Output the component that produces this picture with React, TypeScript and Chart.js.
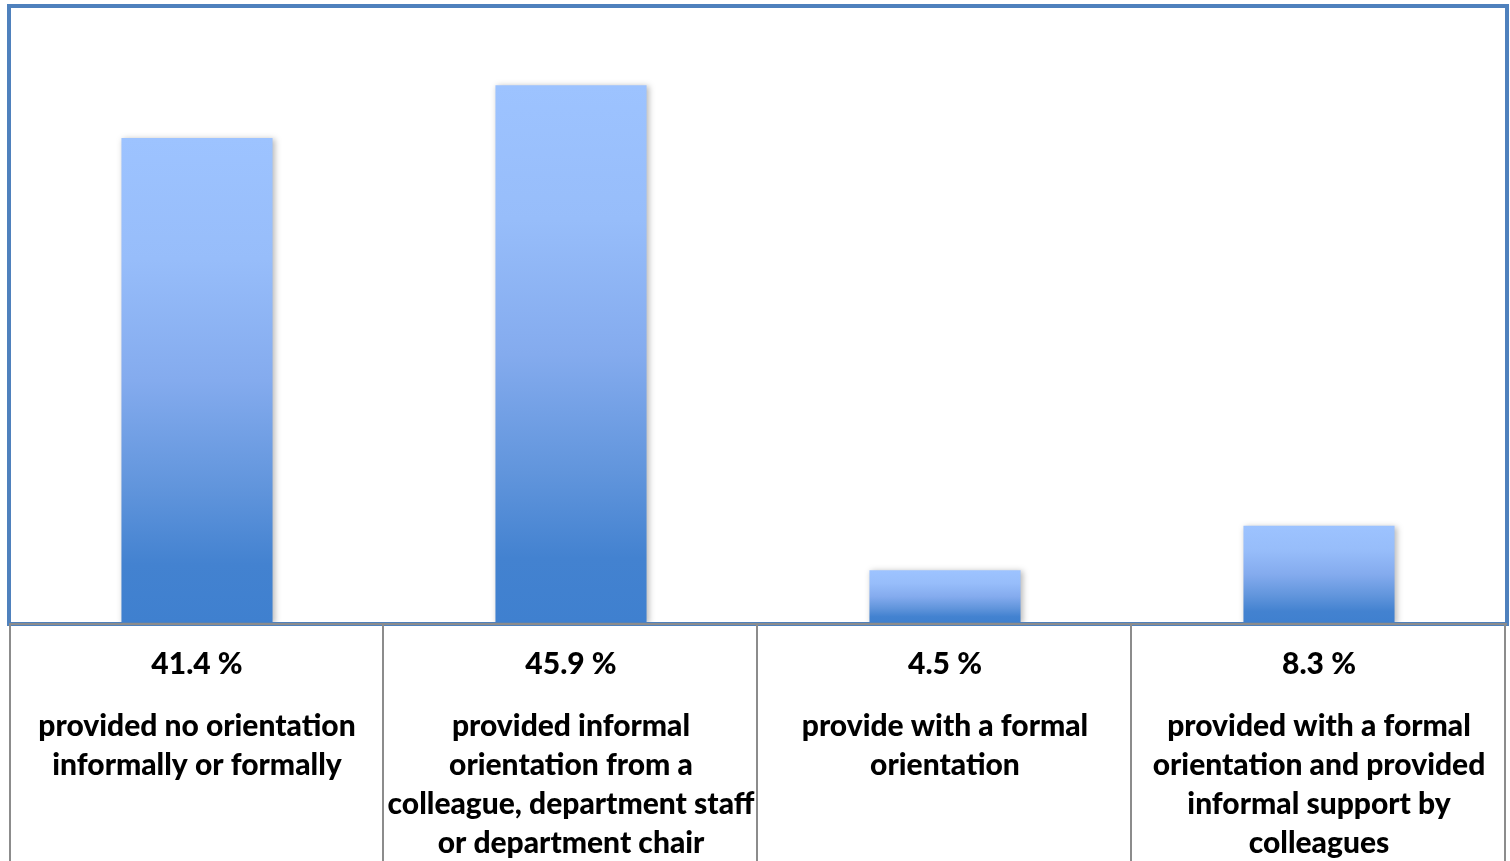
import React, { useEffect, useRef } from "react";
import { Chart, registerables } from "chart.js";

Chart.register(...registerables);

const categories: string[][] = [
  ["provided no orientation", "informally or formally"],
  ["provided informal", "orientation from a", "colleague, department staff", "or department chair"],
  ["provide with a formal", "orientation"],
  ["provided with a formal", "orientation and provided", "informal support by", "colleagues"],
];
const values: number[] = [41.4, 45.9, 4.5, 8.3];
const valueLabels: string[] = ["41.4 %", "45.9 %", "4.5 %", "8.3 %"];

const FONT = "Lato, 'Open Sans', sans-serif";

const shadowPlugin = {
  id: "barShadow",
  beforeDatasetsDraw(chart: any) {
    const ctx = chart.ctx;
    ctx.save();
    ctx.shadowColor = "rgba(0,0,0,0.28)";
    ctx.shadowBlur = 6;
    ctx.shadowOffsetX = 2;
    ctx.shadowOffsetY = 1;
  },
  afterDatasetsDraw(chart: any) {
    chart.ctx.restore();
  },
};

const framePlugin = {
  id: "frameTable",
  afterDraw(chart: any) {
    const ctx = chart.ctx;
    const { left, right, top, bottom } = chart.chartArea;
    const xs = chart.scales.x;
    const H = chart.height;
    ctx.save();
    ctx.strokeStyle = "#4F81BD";
    ctx.lineWidth = 4;
    ctx.strokeRect(left - 1, top - 2, right - left + 2, bottom - top + 3);
    ctx.strokeStyle = "#8C8C8C";
    ctx.lineWidth = 2;
    ctx.beginPath();
    ctx.moveTo(left - 1, bottom + 1);
    ctx.lineTo(right + 1, bottom + 1);
    ctx.stroke();
    const n = values.length;
    const w = (right - left) / n;
    for (let i = 0; i <= n; i++) {
      const x = Math.round(left + i * w) + (i === 0 ? 0 : -1);
      ctx.beginPath();
      ctx.moveTo(x, bottom + 1);
      ctx.lineTo(x, H);
      ctx.stroke();
    }
    ctx.fillStyle = "#000";
    ctx.textAlign = "center";
    ctx.textBaseline = "middle";
    ctx.font = `900 30px ${FONT}`;
    for (let i = 0; i < n; i++) {
      const cx = xs.getPixelForValue(i);
      ctx.fillText(valueLabels[i], cx, 664);
      categories[i].forEach((line, j) => {
        ctx.fillText(line, cx, 726 + j * 39);
      });
    }
    ctx.restore();
  },
};

export default function App() {
  const ref = useRef<HTMLCanvasElement | null>(null);
  useEffect(() => {
    if (!ref.current) return;
    const chart = new Chart(ref.current, {
      type: "bar",
      data: {
        labels: categories.map((c) => c.join(" ")),
        datasets: [
          {
            data: values,
            backgroundColor: (c: any) => {
              const ch = c.chart;
              const ys = ch.scales.y;
              if (!ys || c.dataIndex === undefined) return "#6FA0E6";
              const top = ys.getPixelForValue(values[c.dataIndex]);
              const base = ys.getPixelForValue(0);
              if (!isFinite(top) || !isFinite(base) || top === base) return "#6FA0E6";
              const g = ch.ctx.createLinearGradient(0, top, 0, base);
              g.addColorStop(0, "#9DC3FF");
              g.addColorStop(0.25, "#97BDFA");
              g.addColorStop(0.5, "#84ABEE");
              g.addColorStop(0.72, "#6195DC");
              g.addColorStop(0.88, "#4382D0");
              g.addColorStop(1, "#3F80CF");
              return g;
            },
            borderWidth: 0,
            categoryPercentage: 1,
            barPercentage: 0.404,
          },
        ],
      },
      options: {
        animation: false,
        responsive: false,
        maintainAspectRatio: false,
        layout: { padding: { left: 10, right: 4, top: 8, bottom: 238 } },
        plugins: { legend: { display: false }, tooltip: { enabled: false } },
        scales: {
          x: { display: false },
          y: { display: false, min: 0, max: 52.5 },
        },
      },
      plugins: [shadowPlugin, framePlugin],
    });
    return () => chart.destroy();
  }, []);
  return (
    <div style={{ position: "fixed", left: 0, top: 0, width: 1510, height: 861, background: "#fff" }}>
      <canvas ref={ref} width={1510} height={861} style={{ display: "block" }} />
    </div>
  );
}
